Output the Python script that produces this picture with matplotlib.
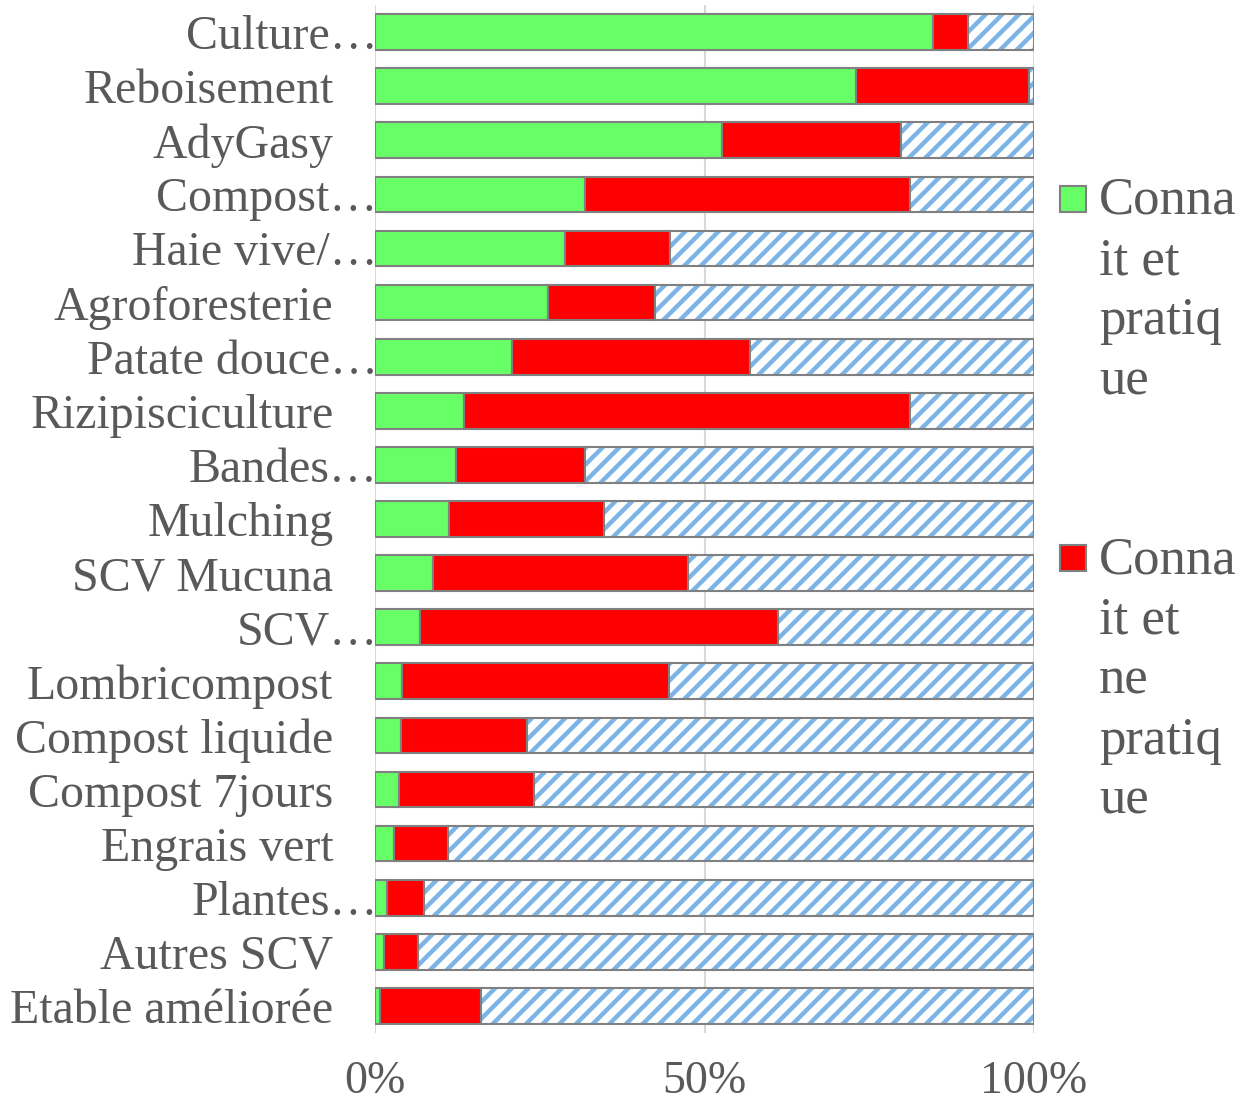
import matplotlib
matplotlib.use("Agg")
import matplotlib.pyplot as plt
from matplotlib.patches import Rectangle
import numpy as np

categories = ["Culture…", "Reboisement", "AdyGasy", "Compost…", "Haie vive/…",
              "Agroforesterie", "Patate douce…", "Rizipisciculture", "Bandes…",
              "Mulching", "SCV Mucuna", "SCV…", "Lombricompost", "Compost liquide",
              "Compost 7jours", "Engrais vert", "Plantes…", "Autres SCV",
              "Etable améliorée"]
connait_pratique = [84.7, 73.0, 52.7, 31.9, 28.8, 26.3, 20.8, 13.5, 12.3, 11.2,
                    8.8, 6.8, 4.1, 3.9, 3.6, 2.9, 1.8, 1.4, 0.8]
connait_ne_pratique = [5.3, 26.2, 27.1, 49.3, 16.0, 16.2, 36.1, 67.7, 19.6, 23.5,
                       38.7, 54.4, 40.5, 19.2, 20.5, 8.2, 5.6, 5.1, 15.3]
ne_connait_pas = [100 - a - b for a, b in zip(connait_pratique, connait_ne_pratique)]
series_names = ["Connait et pratique", "Connait et ne pratique", "Ne connait pas"]
legend_labels = ["Conna\nit et\npratiq\nue", "Conna\nit et\nne\npratiq\nue"]
legend_colors = ["#66FF66", "#FF0000"]

TXT = "#595959"
EDGE = "#808080"
plt.rcParams["font.family"] = ["Liberation Serif", "DejaVu Serif"]
plt.rcParams["hatch.linewidth"] = 3.2

fig = plt.figure(figsize=(12.43, 11.08), dpi=100)
ax = fig.add_axes([375/1243, 1 - 1033/1108, 659/1243, 1028/1108])

y = np.arange(len(categories))
h = 0.66
g = np.array(connait_pratique) / 100
r = np.array(connait_ne_pratique) / 100
b = np.array(ne_connait_pas) / 100

ax.barh(y, g, height=h, color=legend_colors[0], edgecolor=EDGE, linewidth=1.5,
        zorder=3, label=series_names[0])
ax.barh(y, r, left=g, height=h, color=legend_colors[1], edgecolor=EDGE, linewidth=1.5,
        zorder=3, label=series_names[1])
ax.barh(y, b, left=g + r, height=h, color="white", edgecolor="#7DB4E6", hatch="//",
        linewidth=0, zorder=3, label=series_names[2])
ax.barh(y, b, left=g + r, height=h, color="none", edgecolor=EDGE, linewidth=1.5, zorder=4)

ax.set_xlim(0, 1)
ax.set_ylim(len(categories) - 0.5, -0.5)
ax.set_xticks([0, 0.5, 1.0])
ax.set_xticklabels(["0%", "50%", "100%"])
ax.tick_params(axis="x", length=0, pad=20, labelsize=33, labelcolor=TXT)
ax.set_yticks([])
ax.grid(axis="x", color="#D9D9D9", linewidth=1.5, zorder=0)
for s in ax.spines.values():
    s.set_visible(False)

trans = ax.get_yaxis_transform()
for yi, lab in zip(y, categories):
    xpos = 0.004 if lab.endswith("…") else -0.063
    ax.text(xpos, yi, lab, transform=trans, ha="right", va="center_baseline",
            fontsize=34.5, color=TXT)

# legend (manual, wrapped like the reference)
W, H = 1243, 1108
legend_tops = [186, 545]
for top, col, lab in zip(legend_tops, legend_colors, legend_labels):
    fig.patches.append(Rectangle((1060 / W, 1 - (top + 26) / H), 26 / W, 26 / H,
                                 transform=fig.transFigure, facecolor=col,
                                 edgecolor=EDGE, linewidth=1.5))
    fig.text(1099 / W, 1 - (top - 9) / H, lab, ha="left", va="top",
             fontsize=38, color=TXT, linespacing=1.33)

fig.savefig("out.png", dpi=100)
